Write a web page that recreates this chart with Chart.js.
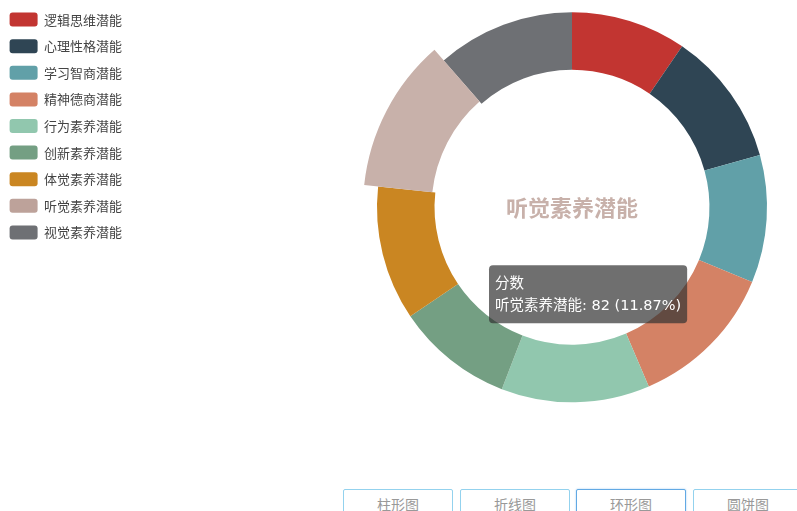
<!DOCTYPE html>
<html lang="zh">
<head>
    <meta charset="UTF-8" />
    <title>潜能分数</title>
    <script src="https://cdn.jsdelivr.net/npm/chart.js"></script>
    <style>
        body { margin: 0; background: #fff; font-family: "Noto Sans CJK SC", sans-serif; }
        #wrap { position: relative; width: 797px; height: 511px; overflow: hidden; }
        canvas { position: absolute; left: 0; top: 0; }
        .btn {
            position: absolute; top: 489px; width: 110px; height: 30px;
            border: 1.5px solid #93d2ee; border-radius: 2px; background: #fff;
            color: #999; font-size: 14px; text-align: center; line-height: 28px;
            box-sizing: border-box;
        }
        .btn.active { border-color: #62a9e4; box-shadow: 0 0 2px #9cc8ef; }
    </style>
</head>
<body>
<div id="wrap">
    <canvas id="donut" width="797" height="430"></canvas>
    <div class="btn" style="left:343px">柱形图</div>
    <div class="btn" style="left:460px">折线图</div>
    <div class="btn active" style="left:576px">环形图</div>
    <div class="btn" style="left:693px">圆饼图</div>
</div>

<script>
    const seriesName = '分数';
    const labels = ['逻辑思维潜能', '心理性格潜能', '学习智商潜能', '精神德商潜能', '行为素养潜能',
                    '创新素养潜能', '体觉素养潜能', '听觉素养潜能', '视觉素养潜能'];
    const values = [66, 77, 73, 85, 85, 67, 77, 82, 79];
    const colors = ['#c23531', '#2f4554', '#61a0a8', '#d48265', '#91c7ae',
                    '#749f83', '#ca8622', '#bda29a', '#6e7074'];
    const activeIndex = 7;

    // светлее для выделенного сегмента
    function lighten(hex, k) {
        const n = parseInt(hex.slice(1), 16);
        const r = n >> 16, g = (n >> 8) & 255, b = n & 255;
        const f = c => Math.round(c + (255 - c) * k);
        return `rgb(${f(r)}, ${f(g)}, ${f(b)})`;
    }
    const hoverColors = colors.map(c => lighten(c, 0.16));

    const total = values.reduce((a, b) => a + b, 0);
    const font = '"Noto Sans CJK SC", "Noto Sans", sans-serif';
    const tipFont = '"DejaVu Sans", "Noto Sans CJK SC", sans-serif';

    Chart.Tooltip.positioners.fixedSpot = function () {
        const a = this.chart.chartArea;
        const cx = (a.left + a.right) / 2, cy = (a.top + a.bottom) / 2;
        return { x: cx - 79, y: cy + 58 };
    };

    const legendWidth = {
        id: 'legendWidth',
        beforeInit(chart) {
            const fit = chart.legend.fit;
            chart.legend.fit = function () {
                fit.bind(chart.legend)();
                this.width = 380;
            };
        }
    };

    // выделенный сегмент рисуется толще наружу (как emphasis в echarts)
    const emphasis = {
        id: 'emphasis',
        beforeDatasetsDraw(chart) {
            const el = chart.getDatasetMeta(0).data[activeIndex];
            el.outerRadius += 14;
            el.innerRadius += 3;
        },
        afterDatasetsDraw(chart) {
            const el = chart.getDatasetMeta(0).data[activeIndex];
            el.outerRadius -= 14;
            el.innerRadius -= 3;
        }
    };

    const centerLabel = {
        id: 'centerLabel',
        afterDatasetsDraw(chart) {
            const a = chart.chartArea;
            const ctx = chart.ctx;
            ctx.save();
            ctx.font = 'bold 22px ' + font;
            ctx.fillStyle = hoverColors[activeIndex];
            ctx.textAlign = 'center';
            ctx.textBaseline = 'middle';
            ctx.fillText(labels[activeIndex], (a.left + a.right) / 2, (a.top + a.bottom) / 2);
            ctx.restore();
        }
    };

    const ctx = document.getElementById('donut').getContext('2d');
    const chart = new Chart(ctx, {
        type: 'doughnut',
        data: {
            labels: labels,
            datasets: [{
                label: seriesName,
                data: values,
                backgroundColor: colors,
                hoverBackgroundColor: hoverColors,
                borderWidth: 0,
                hoverBorderWidth: 0,
                hoverOffset: 0
            }]
        },
        options: {
            responsive: false,
            animation: false,
            cutout: '70.5%',
            events: [],
            layout: { padding: { top: 0, right: 30, bottom: 15.6, left: -3 } },
            plugins: {
                legend: {
                    position: 'left',
                    align: 'start',
                    labels: {
                        boxWidth: 28,
                        boxHeight: 14,
                        useBorderRadius: true,
                        borderRadius: 3,
                        padding: 12.6,
                        color: '#444',
                        font: { size: 13, family: font }
                    }
                },
                tooltip: {
                    position: 'fixedSpot',
                    xAlign: 'left',
                    yAlign: 'top',
                    caretSize: 0,
                    caretPadding: 0,
                    cornerRadius: 4,
                    backgroundColor: 'rgba(50, 50, 50, 0.7)',
                    displayColors: false,
                    padding: { top: 10.3, bottom: 8.3, left: 6, right: 6 },
                    titleFont: { size: 14.5, weight: 'normal', family: tipFont },
                    bodyFont: { size: 14.5, family: tipFont },
                    titleMarginBottom: 4.6,
                    callbacks: {
                        title: () => seriesName,
                        label: item => {
                            const pct = (item.raw / total * 100).toFixed(2);
                            return `${item.label}: ${item.raw} (${pct}%)`;
                        }
                    }
                }
            }
        },
        plugins: [legendWidth, emphasis, centerLabel]
    });

    const active = [{ datasetIndex: 0, index: activeIndex }];
    chart.setActiveElements(active);
    chart.tooltip.setActiveElements(active, { x: 0, y: 0 });
    chart.update();
</script>
</body>
</html>
